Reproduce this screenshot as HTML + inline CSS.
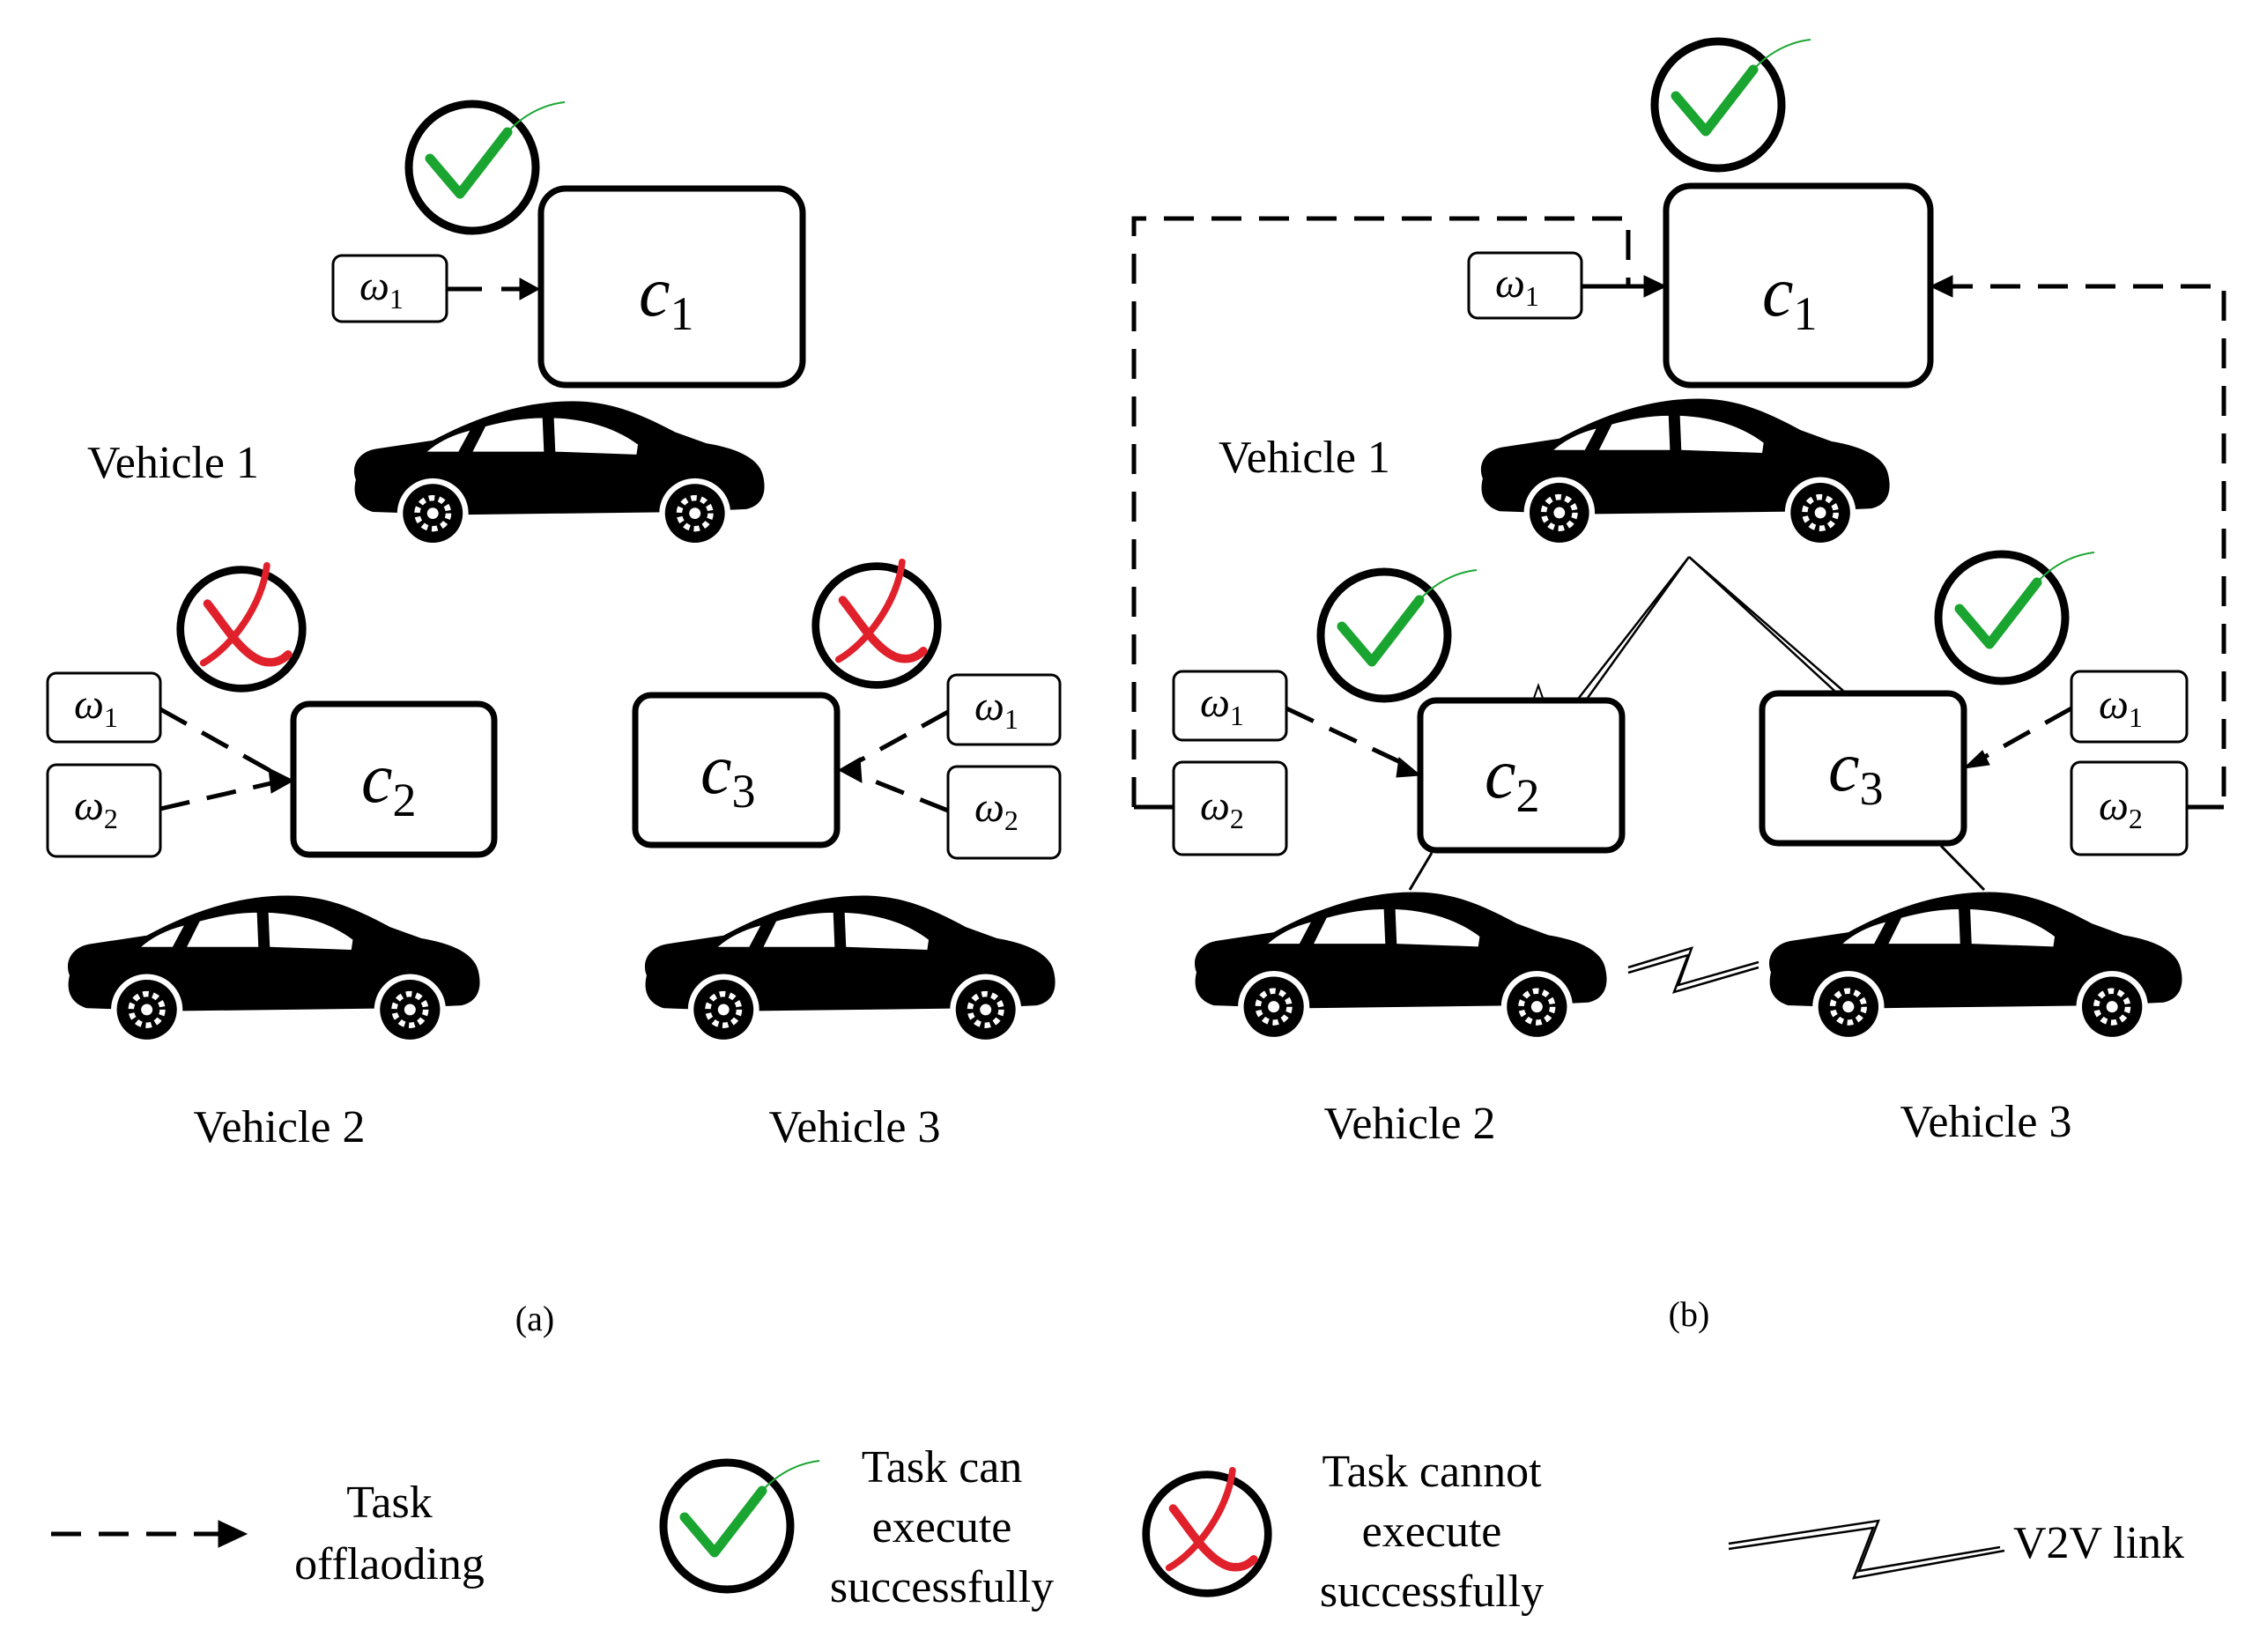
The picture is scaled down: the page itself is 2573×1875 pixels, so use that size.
<!DOCTYPE html>
<html><head><meta charset="utf-8"><style>
html,body{margin:0;padding:0;background:#fff;}
svg{display:block;}
text{font-family:"Liberation Serif",serif;fill:#000;}
.m{font-style:italic;}
</style></head><body>
<svg width="2573" height="1875" viewBox="0 0 2573 1875" xmlns="http://www.w3.org/2000/svg">
<defs>
<symbol id="car" viewBox="0 0 300 110" preserveAspectRatio="none">
<path d="M8,60 C4,50 10,40 22,38 L62,32 C95,14 128,4 160,4 C186,4 206,12 232,26 L254,34 C278,38 292,46 294,58 C297,72 291,79 282,81 L240,83 L80,85 L20,83 C10,80 5,72 8,60 Z" fill="#000"/>
<path d="M58,40 C66,33 76,28 88,25 L80,40 Z" fill="#fff"/>
<path d="M90,40 L99,22 C114,18 126,16 139,16 L140,40 Z" fill="#fff"/>
<path d="M148,40 L147,16 C170,17 190,23 206,35 L205,42 Z" fill="#fff"/>
<circle cx="62" cy="84" r="25" fill="#fff"/><circle cx="62" cy="84" r="21" fill="#000"/>
<circle cx="62" cy="84" r="11" fill="none" stroke="#fff" stroke-width="4" stroke-dasharray="4 3"/><circle cx="62" cy="84" r="4" fill="#fff"/>
<circle cx="246" cy="84" r="25" fill="#fff"/><circle cx="246" cy="84" r="21" fill="#000"/>
<circle cx="246" cy="84" r="11" fill="none" stroke="#fff" stroke-width="4" stroke-dasharray="4 3"/><circle cx="246" cy="84" r="4" fill="#fff"/>
</symbol>
<symbol id="ok" viewBox="-80 -80 200 160">
<circle cx="0" cy="0" r="72" fill="none" stroke="#000" stroke-width="9"/>
<path d="M-48,-10 L-14,30 L40,-40" fill="none" stroke="#1aa531" stroke-width="11" stroke-linecap="round" stroke-linejoin="round"/>
<path d="M40,-40 C60,-62 85,-72 105,-74" fill="none" stroke="#1aa531" stroke-width="2"/>
</symbol>
<symbol id="no" viewBox="-80 -80 160 160">
<ellipse cx="0" cy="0" rx="72" ry="70" fill="none" stroke="#000" stroke-width="9"/>
<path d="M-40,-30 C-20,-5 0,30 25,38 C40,42 50,35 55,30" fill="none" stroke="#e0202a" stroke-width="10" stroke-linecap="round"/>
<path d="M30,-75 C25,-30 -10,20 -45,40" fill="none" stroke="#e0202a" stroke-width="8" stroke-linecap="round"/>
</symbol>
</defs>
<g stroke="#000" fill="none">
<rect x="614" y="214" width="297" height="223" rx="28" stroke-width="7"/>
<rect x="378" y="290" width="129" height="75" rx="10" stroke-width="3"/>
<path d="M507,328 L612,328" stroke-width="5" stroke-dasharray="40 22"/>
<path d="M590,316 L612,328 L590,340 Z" fill="#000"/>
<rect x="333" y="799" width="228" height="171" rx="18" stroke-width="7"/>
<rect x="54" y="764" width="128" height="78" rx="10" stroke-width="3"/>
<rect x="54" y="868" width="128" height="104" rx="10" stroke-width="3"/>
<path d="M182,805 L325,885" stroke-width="5" stroke-dasharray="34 20"/>
<path d="M182,918 L325,885" stroke-width="5" stroke-dasharray="34 20"/>
<path d="M305,872 L333,886 L308,900 Z" fill="#000"/>
<rect x="721" y="789" width="229" height="170" rx="18" stroke-width="7"/>
<rect x="1076" y="766" width="127" height="79" rx="10" stroke-width="3"/>
<rect x="1076" y="870" width="127" height="104" rx="10" stroke-width="3"/>
<path d="M1076,808 L958,873" stroke-width="5" stroke-dasharray="34 20"/>
<path d="M1076,920 L958,873" stroke-width="5" stroke-dasharray="34 20"/>
<path d="M976,860 L952,874 L978,888 Z" fill="#000"/>
<rect x="1891" y="211" width="300" height="226" rx="28" stroke-width="7"/>
<rect x="1667" y="287" width="128" height="74" rx="10" stroke-width="3"/>
<path d="M1795,325 L1888,325" stroke-width="5"/>
<path d="M1287,916 L1287,248 L1848,248 L1848,325 L1888,325" stroke-width="5" stroke-dasharray="34 20"/>
<path d="M1866,313 L1891,325 L1866,337 Z" fill="#000"/>
<path d="M2482,916 L2524,916 L2524,325 L2194,325" stroke-width="5" stroke-dasharray="34 20"/>
<path d="M2216,313 L2191,325 L2216,337 Z" fill="#000"/>
<path d="M1287,916 L1332,916" stroke-width="5"/>
<rect x="1612" y="795" width="229" height="170" rx="18" stroke-width="7"/>
<rect x="2000" y="787" width="229" height="170" rx="18" stroke-width="7"/>
<rect x="1332" y="762" width="128" height="78" rx="10" stroke-width="3"/>
<rect x="1332" y="865" width="128" height="105" rx="10" stroke-width="3"/>
<rect x="2351" y="762" width="131" height="80" rx="10" stroke-width="3"/>
<rect x="2351" y="865" width="131" height="105" rx="10" stroke-width="3"/>
<path d="M1460,804 L1600,870" stroke-width="5" stroke-dasharray="34 20"/>
<path d="M1588,860 L1612,880 L1585,882 Z" fill="#000"/>
<path d="M2351,804 L2240,866" stroke-width="5" stroke-dasharray="34 20"/>
<path d="M2250,852 L2229,872 L2258,868 Z" fill="#000"/>
<path d="M2482,916 L2524,916" stroke-width="5"/>
<path d="M1917,632 L1792,792 M1917,632 L1802,792 M1917,632 L2082,784 M1917,632 L2092,784" stroke-width="2.5"/>
<path d="M1625,968 L1600,1010 M2203,960 L2252,1010" stroke-width="3"/>
<path d="M1740,795 L1746,778 L1752,795" stroke-width="2"/>
<path d="M1848,1098 L1920,1076 L1905,1118 L1996,1092 M1848,1104 L1916,1084 L1900,1126 L1996,1098" stroke-width="2.5"/>
<path d="M58,1741 L250,1741" stroke-width="5" stroke-dasharray="34 20"/>
<path d="M248,1726 L280,1741 L248,1756 Z" fill="#000"/>
<path d="M1962,1752 L2132,1726 L2110,1783 L2270,1756 M1962,1758 L2126,1734 L2104,1791 L2275,1760" stroke-width="2.5"/>
</g>
<use href="#ok" x="456" y="110" width="200" height="160"/>
<use href="#no" x="197" y="637" width="154" height="154"/>
<use href="#no" x="918" y="633" width="154" height="154"/>
<use href="#ok" x="1870" y="39" width="200" height="160"/>
<use href="#ok" x="1491" y="641" width="200" height="160"/>
<use href="#ok" x="2192" y="621" width="200" height="160"/>
<use href="#ok" x="745" y="1652" width="200" height="160"/>
<use href="#no" x="1293" y="1664" width="154" height="154"/>
<use href="#car" x="391" y="449" width="485" height="175"/>
<use href="#car" x="66" y="1010" width="487" height="178"/>
<use href="#car" x="721" y="1010" width="485" height="178"/>
<use href="#car" x="1670" y="446" width="483" height="178"/>
<use href="#car" x="1345" y="1006" width="487" height="179"/>
<use href="#car" x="1997" y="1006" width="488" height="179"/>
<g font-size="80" class="m">
<text x="725" y="358" class="m">c<tspan font-size="54" dy="16" font-style="normal">1</tspan></text>
<text x="410" y="910" class="m">c<tspan font-size="54" dy="16" font-style="normal">2</tspan></text>
<text x="795" y="900" class="m">c<tspan font-size="54" dy="16" font-style="normal">3</tspan></text>
<text x="2000" y="358" class="m">c<tspan font-size="54" dy="16" font-style="normal">1</tspan></text>
<text x="1685" y="905" class="m">c<tspan font-size="54" dy="16" font-style="normal">2</tspan></text>
<text x="2075" y="897" class="m">c<tspan font-size="54" dy="16" font-style="normal">3</tspan></text>
</g>
<g font-size="48">
<text x="408" y="340" class="m">ω<tspan font-size="32" dy="10" font-style="normal">1</tspan></text>
<text x="84" y="815" class="m">ω<tspan font-size="32" dy="10" font-style="normal">1</tspan></text>
<text x="84" y="930" class="m">ω<tspan font-size="32" dy="10" font-style="normal">2</tspan></text>
<text x="1106" y="817" class="m">ω<tspan font-size="32" dy="10" font-style="normal">1</tspan></text>
<text x="1106" y="932" class="m">ω<tspan font-size="32" dy="10" font-style="normal">2</tspan></text>
<text x="1697" y="337" class="m">ω<tspan font-size="32" dy="10" font-style="normal">1</tspan></text>
<text x="1362" y="813" class="m">ω<tspan font-size="32" dy="10" font-style="normal">1</tspan></text>
<text x="1362" y="930" class="m">ω<tspan font-size="32" dy="10" font-style="normal">2</tspan></text>
<text x="2382" y="815" class="m">ω<tspan font-size="32" dy="10" font-style="normal">1</tspan></text>
<text x="2382" y="930" class="m">ω<tspan font-size="32" dy="10" font-style="normal">2</tspan></text>
</g>
<g font-size="52">
<text x="99" y="542">Vehicle 1</text>
<text x="1383" y="536">Vehicle 1</text>
<text x="317" y="1296" text-anchor="middle">Vehicle 2</text>
<text x="970" y="1296" text-anchor="middle">Vehicle 3</text>
<text x="1600" y="1292" text-anchor="middle">Vehicle 2</text>
<text x="2254" y="1290" text-anchor="middle">Vehicle 3</text>
<text x="442" y="1722" text-anchor="middle">Task</text>
<text x="442" y="1792" text-anchor="middle">offlaoding</text>
<text x="1069" y="1682" text-anchor="middle">Task can</text>
<text x="1069" y="1750" text-anchor="middle">execute</text>
<text x="1069" y="1818" text-anchor="middle">successfully</text>
<text x="1625" y="1687" text-anchor="middle">Task cannot</text>
<text x="1625" y="1755" text-anchor="middle">execute</text>
<text x="1625" y="1823" text-anchor="middle">successfully</text>
<text x="2285" y="1768">V2V link</text>
</g>
<g font-size="40">
<text x="607" y="1510" text-anchor="middle">(a)</text>
<text x="1917" y="1505" text-anchor="middle">(b)</text>
</g>
</svg>
</body></html>
